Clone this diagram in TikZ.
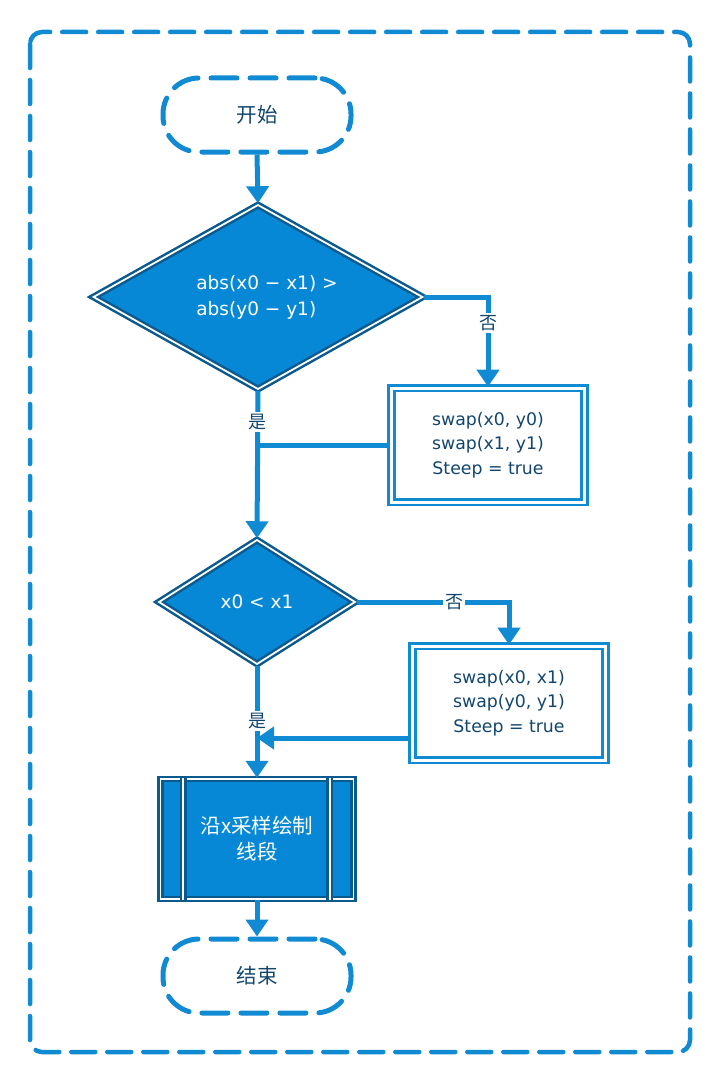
\documentclass[tikz,border=0pt]{standalone}
\usepackage{fontspec}
\newfontfamily\cjk{Noto Sans CJK SC}
\newfontfamily\latn{DejaVu Sans}
\usetikzlibrary{shapes.geometric,arrows.meta,calc}
\definecolor{lb}{HTML}{118AD4}
\definecolor{db}{HTML}{0B5A8E}
\definecolor{fb}{HTML}{0788D6}
\definecolor{tx}{HTML}{12466E}
\tikzset{
  zh/.style={font=\cjk\fontsize{20.5}{26}\selectfont},
  en/.style={font=\latn\fontsize{17.3}{24.5}\selectfont},
  term/.style={zh, draw=lb, line width=5pt, dash pattern=on 26pt off 13pt, line cap=round,
    rounded corners=36pt, minimum width=188pt, minimum height=74pt, text=tx},
  decide/.style={font=\latn\fontsize{18.5}{26}\selectfont, diamond, draw=db, fill=fb, line width=2.5pt,
    double=white, double distance=1.8pt, inner sep=0pt, text=white, align=left},
  procbox/.style={en, draw=lb, fill=white, line width=2.6pt, double=white, double distance=3pt,
    minimum width=193pt, minimum height=114pt, text=tx, align=center},
  darkbox/.style={zh, draw=db, fill=fb, line width=2.5pt, double=white, double distance=1.8pt,
    minimum width=193pt, minimum height=120pt, text=white, align=center},
  arr/.style={draw=lb, line width=5pt, -{Triangle[length=17pt,width=22pt]}},
  conn/.style={draw=lb, line width=5pt},
  lab/.style={font=\cjk\fontsize{18}{22}\selectfont, fill=white, text=tx, inner sep=2pt},
}
\begin{document}
\begin{tikzpicture}[x=1pt,y=-1pt]
\useasboundingbox (0,0) rectangle (725,1070);
\draw[lb, line width=4.5pt, dash pattern=on 24pt off 12pt, line cap=round, rounded corners=12pt]
  (30,32) rectangle (690,1052);

\node[term] (start) at (257,115) {开始};
\node[decide, aspect=1.78, minimum width=330pt, minimum height=185pt] (d1) at (258,297) {\hspace*{18pt}abs(x0 − x1) >\\\hspace*{18pt}abs(y0 − y1)};
\node[procbox] (b1) at (488,445) {swap(x0, y0)\\swap(x1, y1)\\Steep = true};
\node[decide, minimum width=197pt, minimum height=125pt] (d2) at (257,602) {x0 < x1};
\node[procbox] (b2) at (509,703) {swap(x0, x1)\\swap(y0, y1)\\Steep = true};
\node[darkbox] (b3) at (257,839) {沿x采样绘制\\线段};
\draw[db, line width=2.5pt, double=white, double distance=1.8pt]
  ([xshift=24pt]b3.north west) -- ([xshift=24pt]b3.south west)
  ([xshift=-25pt]b3.north east) -- ([xshift=-25pt]b3.south east);
\node[term] (end) at (257,976) {结束};

\draw[arr] (start.south) -- (d1.north);
\draw[arr] (d1.east) -| node[pos=0.645, lab] {否} (b1.north);
\draw[arr] (d1.south) -- node[pos=0.21, lab] {是} (d2.north);
\draw[conn] (b1.west) -- (b1.west -| d1.south);
\draw[arr] (d2.east) -| node[pos=0.32, lab] {否} (b2.north);
\draw[arr] (d2.south) -- node[pos=0.49, lab] {是} (b3.north);
\draw[arr] ([shift={(0,35)}]b2.west) -- ([shift={(0,35)}]b2.west -| d2.south);
\draw[arr] (b3.south) -- (end.north);
\end{tikzpicture}
\end{document}
